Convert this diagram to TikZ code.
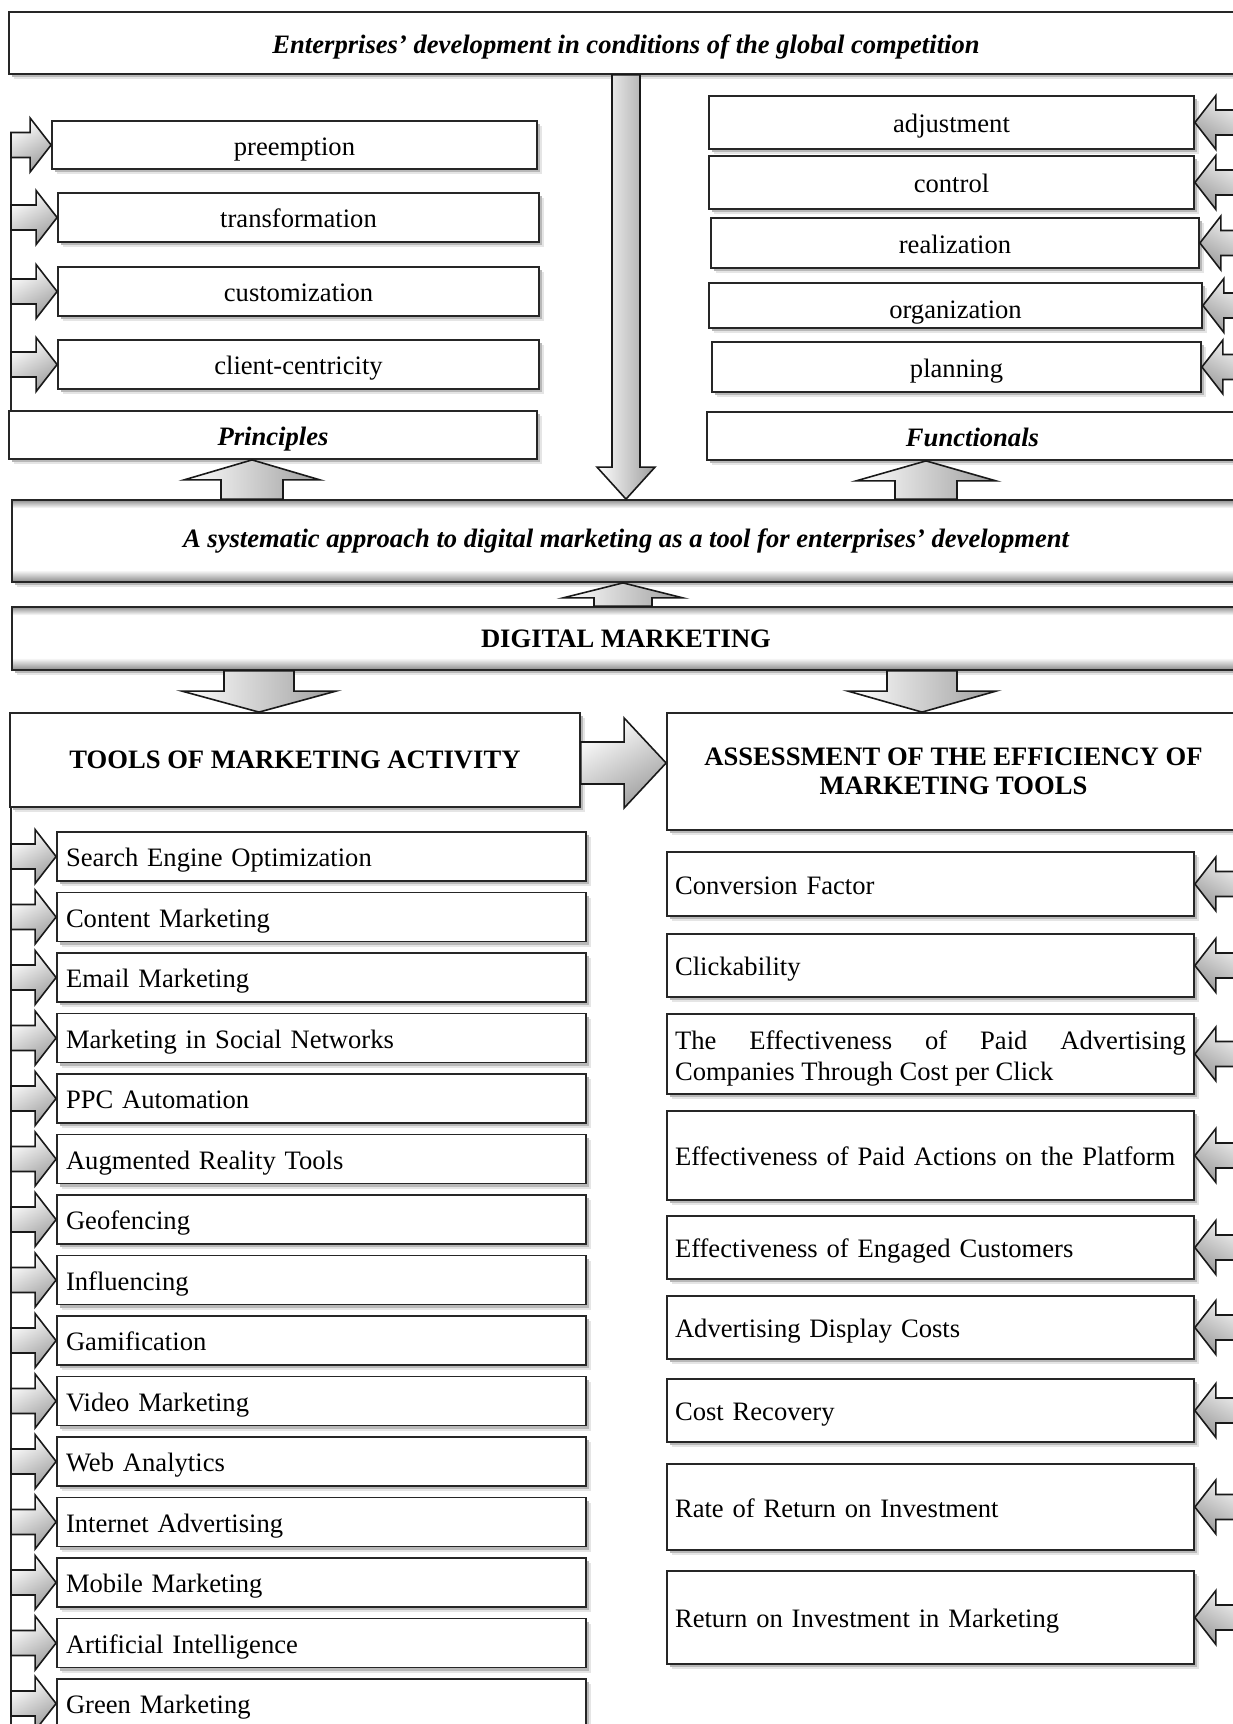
\documentclass[tikz,border=0pt]{standalone}
\usepackage{fontspec}
\setmainfont{Liberation Serif}
\usetikzlibrary{calc,shadows}
\newcommand\myN{\fontsize{26.6}{31}\selectfont}
\newcommand\myBI{\fontsize{26.6}{31}\selectfont\bfseries\itshape}
\newcommand\myBF{\fontsize{26.6}{29}\selectfont\bfseries}
\tikzset{
 boxbase/.style={draw=black!85, line width=1.8pt, fill=white, inner ysep=0pt, inner xsep=4pt,
   general shadow={shadow xshift=5pt,shadow yshift=-5pt,fill=black!10},
   general shadow={shadow xshift=3pt,shadow yshift=-3pt,fill=black!28}},
 itemc/.style={text height=26pt,text depth=6pt},
 toolitem/.style={text width=511pt,align=left,inner xsep=9pt,text height=26pt,text depth=6pt},
 assitem/.style={text width=511pt,align=left,inner xsep=8pt,text height=26pt,text depth=6pt},
 barrow/.style={draw=black!90,line width=1.6pt,line join=miter,top color=white,bottom color=black!38,shading angle=30},
 varrow/.style={draw=black!90,line width=1.6pt,line join=miter,left color=white,right color=black!38},
 bline/.style={draw=black!85,line width=1.5pt},
 band/.style={top color=white,bottom color=black!40},
 bandtop/.style={top color=black!35,bottom color=white}
}
% centred box from corner (x1,y1) to (x2,y2)
\newcommand\cbox[7][]{\node[boxbase,#1,minimum width={#5-#3},minimum height={#6-#4}] (#2) at ({(#3+#5)/2},{(#4+#6)/2}) {#7};}
% right-pointing block arrow into west side of node #1 from bracket #2
\newcommand\rarr[2]{\path[barrow] (#1.west) -- ++(-21,-27) -- ++(0,14.5) -- ($(#1.west -| #2)+(0,-12.5)$) -- ($(#1.west -| #2)+(0,12.5)$) -- ($(#1.west)+(-21,12.5)$) -- ++(0,14.5) -- cycle;}
% left-pointing block arrow into east side of node #1 from bracket #2
\newcommand\larr[2]{\path[barrow,shading angle=-30] (#1.east) -- ++(21,-27) -- ++(0,14.5) -- ($(#1.east -| #2)+(0,-12.5)$) -- ($(#1.east -| #2)+(0,12.5)$) -- ($(#1.east)+(21,12.5)$) -- ++(0,14.5) -- cycle;}
% vertical block arrow: tip #1, tail at y of #2, head half #3, shaft half #4, head length #5 (signed)
\newcommand\varr[5]{\path[varrow] (#1) -- ++(-#3,#5) -- ++({#3-#4},0) -- ($(#1 |- #2)+(-#4,0)$) -- ($(#1 |- #2)+(#4,0)$) -- ($(#1)+(#4,#5)$) -- ++({#3-#4},0) -- cycle;}
% horizontal right block arrow: tip #1, tail at x of #2
\newcommand\harr[5]{\path[barrow] (#1) -- ++(-#5,-#3) -- ++(0,{#3-#4}) -- ($(#1 -| #2)+(0,-#4)$) -- ($(#1 -| #2)+(0,#4)$) -- ($(#1)+(-#5,#4)$) -- ++(0,{#3-#4}) -- cycle;}
\begin{document}
\begin{tikzpicture}[x=1pt,y=-1pt,font=\myN]
\useasboundingbox (0,0) rectangle (1233,1724);
\fill[white] (0,0) rectangle (1233,1724);
\clip (0,0) rectangle (1233,1724);
\coordinate (lbr) at (11,0);
\coordinate (rbr) at (1260,0);

% top
\cbox[itemc,font=\myBI]{top}{9}{12}{1243}{74}{Enterprises’ development in conditions of the global competition}

% principles
\cbox[itemc]{pre}{52}{121}{537}{169}{preemption}
\cbox[itemc]{trf}{58}{193}{539}{242}{transformation}
\cbox[itemc]{cus}{58}{267}{539}{316}{customization}
\cbox[itemc]{cli}{58}{340}{539}{389}{client-centricity}
\cbox[itemc,font=\myBI]{prin}{9}{411}{537}{459}{Principles}

% functionals
\cbox[itemc]{adj}{709}{96}{1194}{149}{adjustment}
\cbox[itemc]{con}{709}{156}{1194}{209}{control}
\cbox[itemc]{rea}{711}{218}{1199}{268}{realization}
\cbox[itemc,text height=29pt,text depth=4pt]{org}{709}{283}{1202}{328}{organization}
\cbox[itemc]{pla}{712}{342}{1201}{392}{planning}
\cbox[itemc,font=\myBI]{func}{707}{412}{1238}{460}{Functionals}

% central boxes
\cbox[font=\myBI]{sys}{12}{500}{1240}{582}{A systematic approach to digital marketing as a tool for enterprises’ development}
\shade[band] ($(sys.south west)+(2,-13)$) rectangle ($(sys.south east)+(-2,-2.5)$);
\shade[bandtop] ($(sys.north west)+(2,2.5)$) rectangle ($(sys.north east)+(-2,9)$);
\cbox[font=\myBF]{dm}{12}{607}{1240}{670}{DIGITAL MARKETING}
\shade[band] ($(dm.south west)+(2,-13)$) rectangle ($(dm.south east)+(-2,-2.5)$);
\shade[bandtop] ($(dm.north west)+(2,2.5)$) rectangle ($(dm.north east)+(-2,9)$);

\cbox[font=\myBF]{tools}{10}{713}{580}{807}{TOOLS OF MARKETING ACTIVITY}
\cbox[font=\myBF,align=center]{ass}{667}{713}{1240}{830}{ASSESSMENT OF THE EFFICIENCY OF\\MARKETING TOOLS}

% tools items
\foreach \itemtext [count=\i from 0] in {Search Engine Optimization,Content Marketing,Email Marketing,Marketing in Social Networks,PPC Automation,Augmented Reality Tools,Geofencing,Influencing,Gamification,Video Marketing,Web Analytics,Internet Advertising,Mobile Marketing,Artificial Intelligence,Green Marketing}{
  \pgfmathsetmacro\yc{832+60.5*\i+24.5}
  \node[boxbase,toolitem,minimum height=49] (t\i) at (321.5,\yc) {\itemtext};
}

% assessment items
\node[boxbase,assitem,minimum height=64] (a1) at (930.5,884) {Conversion Factor};
\node[boxbase,assitem,minimum height=63] (a2) at (930.5,965.5) {Clickability};
\node[boxbase,text width=511pt,align=justify,inner xsep=8pt,text height=27pt,minimum height=80] (a3) at (930.5,1054) {The Effectiveness of Paid Advertising\linebreak Companies Through Cost per Click};
\node[boxbase,assitem,minimum height=89] (a4) at (930.5,1155.5) {Effectiveness of Paid Actions on the Platform};
\node[boxbase,assitem,minimum height=63] (a5) at (930.5,1247.5) {Effectiveness of Engaged Customers};
\node[boxbase,assitem,minimum height=63] (a6) at (930.5,1327.5) {Advertising Display Costs};
\node[boxbase,assitem,minimum height=63] (a7) at (930.5,1410.5) {Cost Recovery};
\node[boxbase,assitem,minimum height=86] (a8) at (930.5,1507) {Rate of Return on Investment};
\node[boxbase,assitem,minimum height=93] (a9) at (930.5,1617.5) {Return on Investment in Marketing};

% brackets
\draw[bline] ($(pre.west -| lbr)+(0,-12.5)$) -- (lbr |- prin.north);
\draw[bline] (lbr |- tools.south) -- ++(0,1000);

% side arrows
\foreach \n in {pre,trf,cus,cli} {\rarr{\n}{lbr}}
\foreach \i in {0,...,14} {\rarr{t\i}{lbr}}
\foreach \n in {adj,con,rea,org,pla} {\larr{\n}{rbr}}
\foreach \i in {1,...,9} {\larr{a\i}{rbr}}

% main block arrows
\coordinate (tA) at (sys.north);
\varr{tA}{top.south}{29}{14}{-32}
\coordinate (tP) at ($(prin.south)+(-21,0)$);
\varr{tP}{sys.north}{68}{31}{20}
\coordinate (tF) at ($(func.south)+(-46.5,0)$);
\varr{tF}{sys.north}{70}{31}{20}
\coordinate (tS) at ($(sys.south)+(-3,0)$);
\varr{tS}{dm.north}{60}{29}{15}
\coordinate (tT) at ($(tools.north)+(-36,0)$);
\varr{tT}{dm.south}{77}{35}{-21}
\coordinate (tAs) at ($(ass.north)+(-31.5,0)$);
\varr{tAs}{dm.south}{74}{35}{-21}
\coordinate (tH) at ($(tools.east -| ass.west)+(0,3)$);
\harr{tH}{tools.east}{45}{21}{42}
\end{tikzpicture}
\end{document}
